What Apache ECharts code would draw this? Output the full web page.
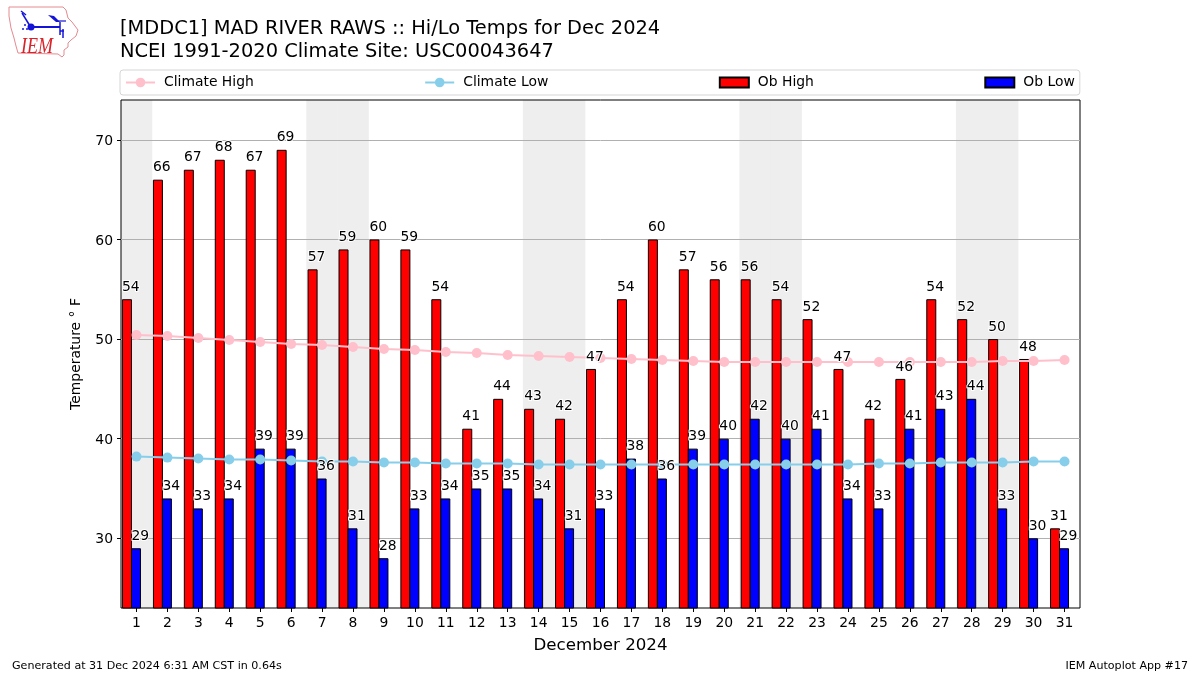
<!DOCTYPE html>
<html>
<head>
<meta charset="utf-8">
<style>html,body{margin:0;padding:0;background:#fff}#c{width:1200px;height:675px}</style>
<script src="https://cdn.jsdelivr.net/npm/echarts@6/dist/echarts.min.js"></script>
</head>
<body>
<div id="c"></div>
<script>
const days = ['1','2','3','4','5','6','7','8','9','10','11','12','13','14','15','16','17','18','19','20','21','22','23','24','25','26','27','28','29','30','31'];
const obHigh = [54,66,67,68,67,69,57,59,60,59,54,41,44,43,42,47,54,60,57,56,56,54,52,47,42,46,54,52,50,48,31];
const obLow = [29,34,33,34,39,39,36,31,28,33,34,35,35,34,31,33,38,36,39,40,42,40,41,34,33,41,43,44,33,30,29];
const climateHigh = [50.4,50.3,50.1,49.9,49.7,49.5,49.4,49.2,49.0,48.9,48.7,48.6,48.4,48.3,48.2,48.1,48.0,47.9,47.8,47.7,47.7,47.7,47.7,47.7,47.7,47.7,47.7,47.7,47.8,47.8,47.9];
const climateLow = [38.2,38.1,38.0,37.9,37.9,37.8,37.7,37.7,37.6,37.6,37.5,37.5,37.5,37.4,37.4,37.4,37.4,37.4,37.4,37.4,37.4,37.4,37.4,37.4,37.5,37.5,37.6,37.6,37.6,37.7,37.7];
const weekendDays = ['1','7','8','14','15','21','22','28','29'];
const yTicks = [30,40,50,60,70];
const yMin = 23, yMax = 74;

const FONT = '"DejaVu Sans"';
const RECT_ICON = 'path://M0 0L0 0M0 1H29V11H0ZM29 12L29 12';
const shade = days.map(d => weekendDays.includes(d) ? yMax : null);
const barStyle = c => ({color:c,borderColor:'#000',borderWidth:1});
const labelSeries = (data,dx) => ({
  type:'scatter',data,symbol:'circle',symbolSize:0,z:10,silent:true,itemStyle:{opacity:1},
  label:{show:true,position:'top',distance:5,offset:[dx,0],color:'#000',fontFamily:FONT,fontSize:13.9,
         textBorderColor:'#fff',textBorderWidth:2}
});
const lineSeries = (name,data,c) => ({
  name,type:'line',data,symbol:'circle',symbolSize:10,showSymbol:true,z:5,silent:true,
  lineStyle:{color:c,width:2},itemStyle:{color:c}
});
const B = '#1414d8';
const logoLine = (x1,y1,x2,y2,w) => ({type:'line',silent:true,z:20,shape:{x1,y1,x2,y2},style:{stroke:B,lineWidth:w}});
const logoDot = (cx,cy,r) => ({type:'circle',silent:true,z:20,shape:{cx,cy,r},style:{fill:B}});

const chart = echarts.init(document.getElementById('c'),null,{renderer:'canvas'});
chart.setOption({
  animation:false,
  backgroundColor:'#fff',
  title:[
    {text:'[MDDC1] MAD RIVER RAWS :: Hi/Lo Temps for Dec 2024\nNCEI 1991-2020 Climate Site: USC00043647',left:120,top:18,padding:0,
     textStyle:{fontFamily:FONT,fontSize:19.42,fontWeight:'normal',color:'#000',lineHeight:22.5}},
    {text:'Generated at 31 Dec 2024 6:31 AM CST in 0.64s',left:12,top:661,padding:0,
     textStyle:{fontFamily:FONT,fontSize:11.1,fontWeight:'normal',color:'#000'}},
    {text:'IEM Autoplot App #17',right:12,top:661,padding:0,
     textStyle:{fontFamily:FONT,fontSize:11.1,fontWeight:'normal',color:'#000'}}
  ],
  legend:{
    data:['Climate High','Climate Low',{name:'Ob High',icon:RECT_ICON},{name:'Ob Low',icon:RECT_ICON}],
    left:120,top:70,orient:'horizontal',
    padding:[5,5,5,5],itemGap:170.4,itemWidth:29,itemHeight:12,
    borderColor:'#d5d5d5',borderWidth:1,borderRadius:3,backgroundColor:'#fff',
    textStyle:{fontFamily:FONT,fontSize:13.9,color:'#000',lineHeight:14,padding:[1,0,0,4]},
    selectedMode:false
  },
  grid:{left:121,right:120,top:100,height:508,show:true,borderColor:'#000',borderWidth:1,backgroundColor:'transparent'},
  xAxis:[
    {type:'category',data:days,position:'bottom',
     name:'December 2024',nameLocation:'middle',nameGap:29,
     nameTextStyle:{fontFamily:FONT,fontSize:16.67,color:'#000'},
     axisLine:{show:false},
     axisTick:{show:true,alignWithLabel:true,length:4,lineStyle:{color:'#000'}},
     axisLabel:{interval:0,margin:8,fontFamily:FONT,fontSize:13.9,color:'#000'},
     splitLine:{show:false}},
    {type:'category',data:days,position:'top',show:false}
  ],
  yAxis:{
    type:'value',min:yMin,max:yMax,
    name:'Temperature ° F',nameLocation:'middle',nameGap:38,nameRotate:90,
    nameTextStyle:{fontFamily:FONT,fontSize:13.9,color:'#000'},
    axisLine:{show:false},
    axisTick:{show:true,length:4,lineStyle:{color:'#000'},customValues:yTicks},
    axisLabel:{margin:8,color:'#000',customValues:yTicks,formatter:'{a|{value}}',
      rich:{a:{fontFamily:FONT,fontSize:13.9,color:'#000',padding:[3,0,0,0]}}},
    splitLine:{show:true,lineStyle:{color:'#b0b0b0',width:1}}
  },
  series:[
    {name:'Weekend',type:'bar',xAxisIndex:1,data:shade,barWidth:'102%',z:-1,silent:true,
     itemStyle:{color:'#eeeeee'}},
    {name:'Ob High',type:'bar',data:obHigh,barWidth:10,barGap:'-10%',itemStyle:barStyle('#ff0000'),z:2,silent:true},
    {name:'Ob Low',type:'bar',data:obLow,barWidth:10,barGap:'-10%',itemStyle:barStyle('#0000ff'),z:2,silent:true},
    {name:'Spacer',type:'bar',data:days.map(()=>null),barWidth:11,barGap:'-10%',z:2,silent:true},
    lineSeries('Climate High',climateHigh,'#ffc0cb'),
    lineSeries('Climate Low',climateLow,'#87ceeb'),
    labelSeries(obHigh,-5.6),
    labelSeries(obLow,3.9)
  ],
  graphic:[
    {type:'polyline',silent:true,z:20,shape:{points:[[9,7],[63,7],[66,10],[68,18],[72,22],[78,30],[76,36],[71,40],[68,43],[68,47],[64,50],[64,55],[62,57],[58,54],[18,53],[16,46],[14,38],[11,28],[9,16],[9,7]]},
     style:{fill:'none',stroke:'#e58a8f',lineWidth:1}},
    {type:'text',silent:true,z:20,x:21,y:35,scaleX:0.75,style:{text:'IEM',fontFamily:'"Liberation Serif"',fontStyle:'italic',fontSize:24,fill:'#d8232a'}},
    logoLine(30,27,60,27,2),
    logoLine(22,13,30,26,1.5),
    logoLine(21,11,26,15,1.5),
    logoDot(31,27,3.5),
    {type:'polygon',silent:true,z:20,shape:{points:[[48,15],[54,16],[60,22],[56,22]]},style:{fill:B}},
    logoLine(56,21,66,21,1.2),
    logoLine(60,22,60,35,1.5),
    logoLine(60,31,64,31,1.5),
    logoLine(63,29,63,38,1.5),
    logoDot(25,25,1),logoDot(23,29,1),logoDot(27,29,1)
  ]
});
</script>
</body>
</html>
